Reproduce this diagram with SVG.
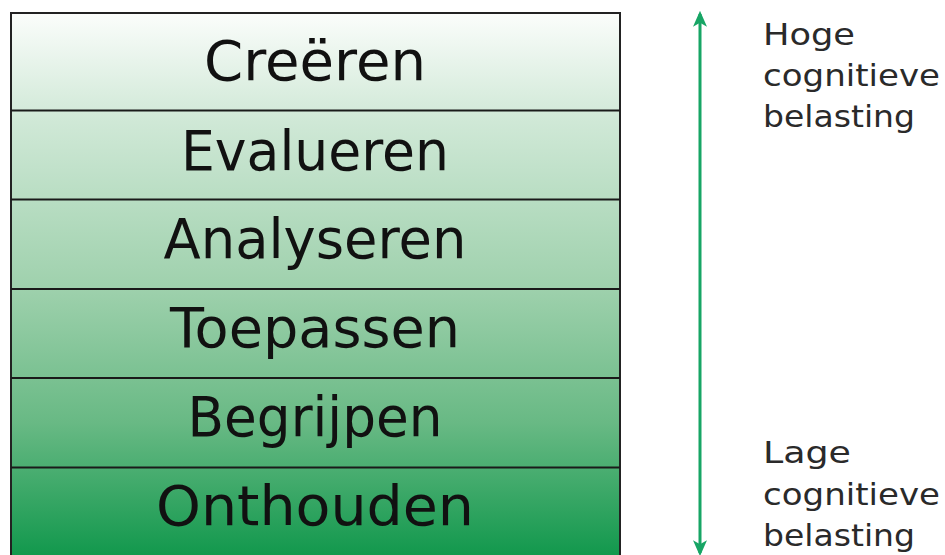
<svg xmlns="http://www.w3.org/2000/svg" width="945" height="555" viewBox="0 0 945 555">
<defs>
<linearGradient id="g" x1="0" y1="13" x2="0" y2="560" gradientUnits="userSpaceOnUse">
<stop offset="0" stop-color="#fbfdfb"/>
<stop offset="0.2" stop-color="#cfe8d6"/>
<stop offset="0.5" stop-color="#9fd1ad"/>
<stop offset="0.75" stop-color="#68b984"/>
<stop offset="1" stop-color="#0f974b"/>
</linearGradient>
<marker id="ah" viewBox="0 0 10 10" refX="8" refY="5" markerWidth="16" markerHeight="14" orient="auto-start-reverse" markerUnits="userSpaceOnUse" preserveAspectRatio="none">
<path d="M0,0 L10,5 L0,10 L2.5,5 z" fill="#17a565"/>
</marker>
<style>
.lvl{font-family:"DejaVu Sans","Liberation Sans",sans-serif;font-size:56px;fill:#111;text-anchor:middle}
.side{font-family:"DejaVu Sans","Liberation Sans",sans-serif;font-size:31px;fill:#2a2a2a}
.div{stroke:#1a1a1a;stroke-width:2}
</style>
</defs>
<rect x="11" y="13" width="609" height="560" fill="url(#g)" stroke="#222" stroke-width="2"/>
<g id="creeren"><text class="lvl" x="315" y="80" textLength="222" lengthAdjust="spacingAndGlyphs">Creëren</text></g>
<g id="evalueren"><line class="div" x1="11" y1="110.5" x2="620" y2="110.5"/><text class="lvl" x="315" y="170" textLength="268" lengthAdjust="spacingAndGlyphs">Evalueren</text></g>
<g id="analyseren"><line class="div" x1="11" y1="199.5" x2="620" y2="199.5"/><text class="lvl" x="315" y="258" textLength="303" lengthAdjust="spacingAndGlyphs">Analyseren</text></g>
<g id="toepassen"><line class="div" x1="11" y1="289" x2="620" y2="289"/><text class="lvl" x="315" y="347" textLength="290" lengthAdjust="spacingAndGlyphs">Toepassen</text></g>
<g id="begrijpen"><line class="div" x1="11" y1="378" x2="620" y2="378"/><text class="lvl" x="315" y="436" textLength="255" lengthAdjust="spacingAndGlyphs">Begrijpen</text></g>
<g id="onthouden"><line class="div" x1="11" y1="467.5" x2="620" y2="467.5"/><text class="lvl" x="315" y="525" textLength="318" lengthAdjust="spacingAndGlyphs">Onthouden</text></g>
<g id="connectors">
<line x1="700" y1="14" x2="700" y2="553" stroke="#17a565" stroke-width="3" marker-start="url(#ah)" marker-end="url(#ah)"/>
</g>
<g id="hoog">
<text class="side" x="763" y="45" textLength="92" lengthAdjust="spacingAndGlyphs">Hoge</text>
<text class="side" x="763" y="86" textLength="177" lengthAdjust="spacingAndGlyphs">cognitieve</text>
<text class="side" x="763" y="127" textLength="152" lengthAdjust="spacingAndGlyphs">belasting</text>
</g>
<g id="laag">
<text class="side" x="763" y="463" textLength="88" lengthAdjust="spacingAndGlyphs">Lage</text>
<text class="side" x="763" y="505" textLength="177" lengthAdjust="spacingAndGlyphs">cognitieve</text>
<text class="side" x="763" y="546" textLength="152" lengthAdjust="spacingAndGlyphs">belasting</text>
</g>
</svg>
